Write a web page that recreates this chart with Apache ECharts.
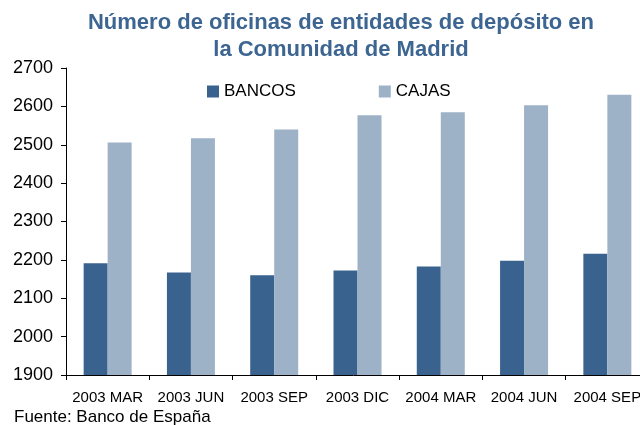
<!DOCTYPE html>
<html>
<head>
<meta charset="utf-8">
<script src="https://cdn.jsdelivr.net/npm/echarts@6/dist/echarts.min.js"></script>
<style>
  html, body { margin: 0; padding: 0; background: #fff; }
  #main { width: 640px; height: 425px; }
</style>
</head>
<body>
<div id="main"></div>
<script>
var categories = ["2003 MAR", "2003 JUN", "2003 SEP", "2003 DIC", "2004 MAR", "2004 JUN", "2004 SEP"];
var bancos = [2191, 2167, 2160, 2172, 2183, 2198, 2216];
var cajas = [2506, 2517, 2540, 2577, 2585, 2603, 2630];
var yTicks = { min: 1900, max: 2700, step: 100 };

var font = "'Liberation Sans', Arial, sans-serif";
var myChart = echarts.init(document.getElementById("main"));

var option = {
  animation: false,
  textStyle: { fontFamily: font },
  title: [
    {
      text: "Número de oficinas de entidades de depósito en\nla Comunidad de Madrid",
      left: 336,
      top: 4,
      textAlign: "center",
      textStyle: { color: "#3d6591", fontSize: 22, fontWeight: "bold", lineHeight: 27, fontFamily: font }
    },
    {
      text: "Fuente: Banco de España",
      left: 9,
      top: 404,
      textStyle: { color: "#000", fontSize: 17, fontWeight: "normal", fontFamily: font }
    }
  ],
  legend: {
    left: 202,
    top: 78,
    itemWidth: 12,
    itemHeight: 12,
    itemGap: 83,
    icon: "rect",
    textStyle: { color: "#000", fontSize: 17, fontFamily: font },
    data: ["BANCOS", "CAJAS"]
  },
  grid: { left: 66, top: 68, width: 583, bottom: 50, outerBoundsMode: "none", containLabel: false },
  xAxis: {
    type: "category",
    data: categories,
    axisLine: { lineStyle: { color: "#000", width: 1 } },
    axisTick: { show: true, length: 5, lineStyle: { color: "#000" } },
    axisLabel: { interval: 0, color: "#000", fontSize: 15, margin: 15, fontFamily: font }
  },
  yAxis: {
    type: "value",
    min: yTicks.min,
    max: yTicks.max,
    interval: yTicks.step,
    axisLine: { show: true, lineStyle: { color: "#000", width: 1 } },
    axisTick: { show: true, length: 5, lineStyle: { color: "#000" } },
    splitLine: { show: false },
    axisLabel: {
      color: "#000", fontSize: 18, margin: 13, fontFamily: font,
      formatter: function (v) { return String(v); }
    }
  },
  series: [
    {
      name: "BANCOS",
      type: "bar",
      data: bancos,
      barWidth: 24,
      barGap: "0%",
      itemStyle: { color: "#3a628e" }
    },
    {
      name: "CAJAS",
      type: "bar",
      data: cajas,
      barWidth: 24,
      barGap: "0%",
      itemStyle: { color: "#9db2c7" }
    }
  ]
};

myChart.setOption(option);
</script>
</body>
</html>
